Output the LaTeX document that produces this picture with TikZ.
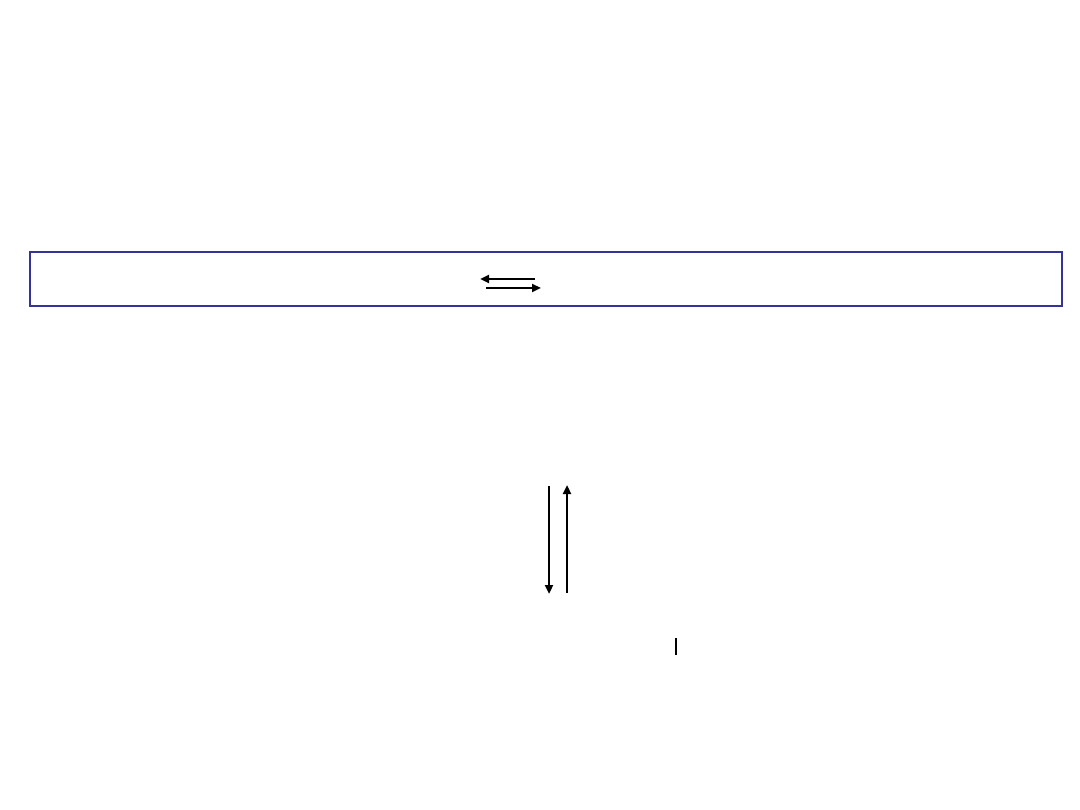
\documentclass[tikz,border=0pt]{standalone}
\usetikzlibrary{arrows.meta}
\begin{document}
\begin{tikzpicture}[x=1pt,y=-1pt,
  arr/.style={line width=2.6pt,-{Triangle[length=9pt,width=8pt]}},
  boxline/.style={draw={rgb,255:red,51;green,51;blue,153},line width=2pt}]
\useasboundingbox (0,0) rectangle (1080,810);
\fill[white] (0,0) rectangle (1080,810);
\node[boxline,minimum width=1032pt,minimum height=54pt,inner sep=0pt] (box) at (546,279) {};
\coordinate (h1a) at (535,279);
\coordinate (h1b) at (480,279);
\coordinate (h2a) at (486,288);
\coordinate (h2b) at (541,288);
\draw[arr] (h1a) -- (h1b);
\draw[arr] (h2a) -- (h2b);
\coordinate (v1a) at (549,486);
\coordinate (v1b) at (549,594);
\coordinate (v2a) at (567,593);
\coordinate (v2b) at (567,485);
\draw[arr] (v1a) -- (v1b);
\draw[arr] (v2a) -- (v2b);
\coordinate (t1) at (676,638);
\coordinate (t2) at (676,655);
\draw[line width=1.8pt] (t1) -- (t2);
\end{tikzpicture}
\end{document}
